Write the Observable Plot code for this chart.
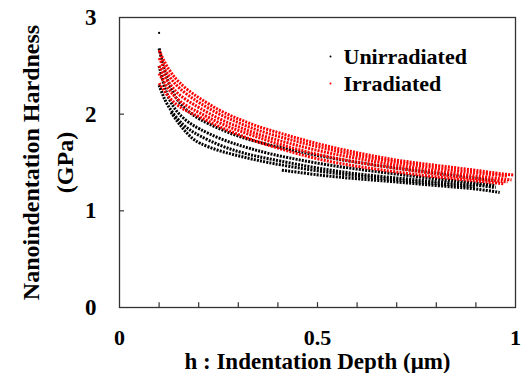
<!DOCTYPE html>
<html><head><meta charset="utf-8">
<script src="https://cdn.jsdelivr.net/npm/d3@7"></script>
<script src="https://cdn.jsdelivr.net/npm/@observablehq/plot@0.6"></script>
<style>body{margin:0;background:#fff}</style>
</head><body><div id="chart"></div>
<script>
// Unirradiated curves: [depth (µm), hardness (GPa)]
const unirr1 = [[0.1,2.68],[0.11,2.5],[0.12,2.36],[0.135,2.22],[0.15,2.12],[0.175,2.02],[0.2,1.95],[0.25,1.85],[0.3,1.77],[0.35,1.71],[0.4,1.66],[0.5,1.57],[0.6,1.5],[0.7,1.44],[0.8,1.39],[0.9,1.34],[0.95,1.31]];
const unirr2 = [[0.1,2.5],[0.11,2.33],[0.12,2.2],[0.135,2.08],[0.15,2.0],[0.175,1.91],[0.2,1.85],[0.25,1.75],[0.3,1.68],[0.35,1.62],[0.4,1.57],[0.5,1.49],[0.6,1.43],[0.7,1.38],[0.8,1.33],[0.9,1.29],[0.95,1.26]];
const unirr3 = [[0.1,2.3],[0.11,2.19],[0.12,2.1],[0.14,1.98],[0.16,1.89],[0.18,1.83],[0.2,1.78],[0.25,1.68],[0.3,1.61],[0.35,1.56],[0.4,1.52],[0.5,1.44],[0.6,1.38],[0.7,1.34],[0.8,1.3],[0.9,1.27],[0.95,1.24]];
const unirr4 = [[0.13,2.02],[0.145,1.93],[0.16,1.85],[0.18,1.76],[0.2,1.7],[0.25,1.62],[0.3,1.57],[0.35,1.52],[0.4,1.48],[0.5,1.41],[0.6,1.36],[0.7,1.32],[0.8,1.28],[0.9,1.25]];
const unirr5 = [[0.41,1.42],[0.45,1.4],[0.5,1.37],[0.6,1.33],[0.7,1.3],[0.8,1.26],[0.9,1.23],[0.96,1.19]];
const unirrOutlier = [[0.1,2.84]];

// Irradiated curves
const irr1 = [[0.1,2.66],[0.11,2.57],[0.12,2.49],[0.135,2.4],[0.15,2.33],[0.175,2.24],[0.2,2.17],[0.25,2.04],[0.3,1.95],[0.35,1.87],[0.4,1.81],[0.5,1.69],[0.6,1.6],[0.7,1.52],[0.8,1.47],[0.9,1.42],[0.95,1.39],[0.995,1.37]];
const irr2 = [[0.1,2.58],[0.11,2.5],[0.12,2.42],[0.135,2.34],[0.15,2.27],[0.175,2.19],[0.2,2.12],[0.25,2.0],[0.3,1.91],[0.35,1.83],[0.4,1.77],[0.5,1.66],[0.6,1.57],[0.7,1.5],[0.8,1.44],[0.9,1.39],[0.98,1.36]];
const irr3 = [[0.1,2.5],[0.11,2.42],[0.12,2.35],[0.135,2.27],[0.15,2.2],[0.175,2.13],[0.2,2.07],[0.25,1.95],[0.3,1.87],[0.35,1.79],[0.4,1.73],[0.5,1.62],[0.6,1.54],[0.7,1.47],[0.8,1.41],[0.9,1.36],[0.99,1.32]];
const irr4 = [[0.1,2.42],[0.11,2.35],[0.12,2.28],[0.135,2.2],[0.15,2.14],[0.175,2.07],[0.2,2.02],[0.25,1.91],[0.3,1.83],[0.35,1.76],[0.4,1.69],[0.5,1.58],[0.6,1.5],[0.7,1.44],[0.8,1.38],[0.9,1.33],[0.98,1.3]];
const irr5 = [[0.1,2.32],[0.11,2.26],[0.12,2.2],[0.135,2.13],[0.15,2.08],[0.175,2.02],[0.2,1.98],[0.25,1.87],[0.3,1.79],[0.35,1.71],[0.4,1.65],[0.5,1.53],[0.6,1.46],[0.7,1.4],[0.8,1.35],[0.9,1.31],[0.97,1.28]];

const seriesNames = ["Unirradiated", "Irradiated"];
const seriesColors = ["#000000", "#ff0000"];
const xLabelTicks = [0, 0.5, 1];
const xMinorTicks = [0.1,0.2,0.3,0.4,0.5,0.6,0.7,0.8,0.9];
const yLabelTicks = [0, 1, 2, 3];
const yMinorTicks = [1, 2];

const unirrCurves = [unirr1, unirr2, unirr3, unirr4, unirr5];
const irrCurves = [irr1, irr2, irr3, irr4, irr5];

const toRows = (curves, name) => curves.flatMap((c, i) => c.map(([x, y]) => ({x, y, curve: name + i})));
const unRows = toRows(unirrCurves, "U");
const irRows = toRows(irrCurves, "I");

const font = "'Liberation Serif', 'Times New Roman', serif";
const dotted = {strokeWidth: 3, strokeDasharray: "2,1.2", strokeLinecap: "butt", curve: "basis"};

const chart = Plot.plot({
  width: 531, height: 373,
  marginLeft: 119, marginRight: 16, marginTop: 17, marginBottom: 66,
  style: {fontFamily: font, fontWeight: "bold", fontSize: "23px", background: "#fff", color: "#000", overflow: "visible"},
  x: {domain: [0, 1]},
  y: {domain: [0, 3]},
  marks: [
    Plot.line(unRows, {x: "x", y: "y", z: "curve", ...dotted, stroke: seriesColors[0]}),
    Plot.dot(unirrOutlier, {x: d => d[0], y: d => d[1], r: 1.1, fill: seriesColors[0]}),
    Plot.line(irRows, {x: "x", y: "y", z: "curve", ...dotted, stroke: seriesColors[1]}),
    Plot.frame({stroke: "#333", strokeWidth: 1.3}),
    Plot.ruleX(xMinorTicks, {y1: 0, y2: 0.05, stroke: "#333", strokeWidth: 1.2}),
    Plot.ruleY(yMinorTicks, {x1: 0, x2: 0.0125, stroke: "#333", strokeWidth: 1.2}),
    Plot.axisX(xLabelTicks, {tickSize: 0, tickPadding: 22, tickFormat: d => String(d), fontSize: 22, label: null}),
    Plot.axisY(yLabelTicks, {tickSize: 0, tickPadding: 23, tickFormat: d => String(d), fontSize: 23, label: null}),
    Plot.text(["h : Indentation Depth (μm)"], {frameAnchor: "bottom", textAnchor: "middle", dy: 54, fontSize: 23, lineAnchor: "middle"}),
    Plot.text(["Nanoindentation Hardness\n(GPa)"], {frameAnchor: "left", textAnchor: "middle", dx: -74, rotate: -90, fontSize: 24, lineHeight: 1.42, lineAnchor: "middle"}),
    Plot.dot([seriesNames[0]], {frameAnchor: "top-left", dx: 211, dy: 39, r: 1, fill: seriesColors[0]}),
    Plot.text([seriesNames[0]], {frameAnchor: "top-left", dx: 224, dy: 39, textAnchor: "start", lineAnchor: "middle", fontSize: 22}),
    Plot.dot([seriesNames[1]], {frameAnchor: "top-left", dx: 211, dy: 66, r: 1, fill: seriesColors[1]}),
    Plot.text([seriesNames[1]], {frameAnchor: "top-left", dx: 224, dy: 66, textAnchor: "start", lineAnchor: "middle", fontSize: 22})
  ]
});
document.getElementById("chart").append(chart);
</script></body></html>
